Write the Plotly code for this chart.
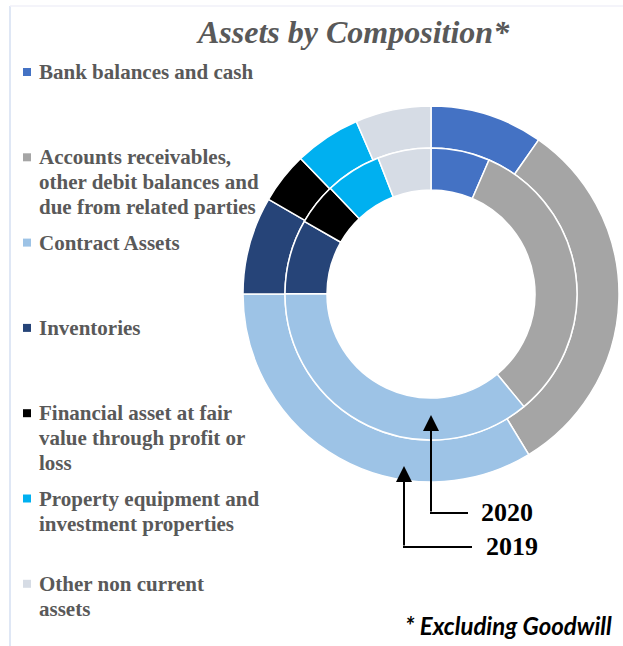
import plotly.graph_objects as go

W, H = 623, 646

categories = [
    "Bank balances and cash",
    "Accounts receivables,<br>other debit balances and<br>due from related parties",
    "Contract Assets",
    "Inventories",
    "Financial asset at fair<br>value through profit or<br>loss",
    "Property equipment and<br>investment properties",
    "Other non current<br>assets",
]
colors = ["#4472C4", "#A5A5A5", "#9DC3E6", "#264478", "#000000", "#00B0F0", "#D6DCE5"]
values_2019 = [9.7, 31.6, 33.7, 8.4, 4.4, 5.7, 6.5]
values_2020 = [6.5, 32.5, 36.0, 8.25, 4.6, 6.2, 5.9]
years = ["2019", "2020"]


def px(x):
    return x / W


def py(y):
    return 1 - y / H


def pie_domain(cx, cy, r):
    return dict(x=[px(cx - r), px(cx + r)], y=[py(cy + r), py(cy - r)])


cx, cy = 431, 294
fig = go.Figure()
labels = [c.replace("<br>", " ") for c in categories]
fig.add_trace(go.Pie(
    labels=labels, values=values_2019, name=years[0], sort=False,
    direction="clockwise", rotation=0, hole=146 / 188,
    domain=pie_domain(cx, cy, 188), textinfo="none",
    marker=dict(colors=colors, line=dict(color="white", width=1.5)),
    showlegend=False,
))
fig.add_trace(go.Pie(
    labels=labels, values=values_2020, name=years[1], sort=False,
    direction="clockwise", rotation=0, hole=104 / 146,
    domain=pie_domain(cx, cy, 146), textinfo="none",
    marker=dict(colors=colors, line=dict(color="white", width=1.5)),
    showlegend=False,
))

annotations = []
shapes = []

# title
annotations.append(dict(
    x=px(353), y=py(32), xref="paper", yref="paper", showarrow=False,
    text="<b><i>Assets by Composition*</i></b>", xanchor="center", yanchor="middle",
    font=dict(family="Liberation Serif", size=32, color="#595959"),
))

# legend
line_h = 25
for i, (cat, col) in enumerate(zip(categories, colors)):
    y0 = 72 + i * 85.3
    for j, line in enumerate(cat.split("<br>")):
        annotations.append(dict(
            x=px(37), y=py(y0 + j * line_h), xref="paper", yref="paper",
            showarrow=False, text="<b>" + line + "</b>", xanchor="left", yanchor="middle",
            align="left", font=dict(family="Liberation Serif", size=21, color="#595959"),
        ))
    shapes.append(dict(
        type="rect", xref="paper", yref="paper",
        x0=px(23), x1=px(31), y0=py(y0 - 4), y1=py(y0 + 4),
        fillcolor=col, line=dict(width=0),
    ))

# arrows
for tipx, tipy, basey, endx, lab, labx in [
    (431, 415, 513, 468, years[1], 479),
    (404, 466, 547, 472, years[0], 484),
]:
    annotations.append(dict(
        x=px(tipx), y=py(tipy), xref="paper", yref="paper", text="",
        showarrow=True, ax=0, ay=basey - tipy, arrowhead=2, arrowsize=1.6,
        arrowwidth=2, arrowcolor="black", standoff=0,
    ))
    shapes.append(dict(
        type="line", xref="paper", yref="paper",
        x0=px(tipx - 1), x1=px(endx), y0=py(basey), y1=py(basey),
        line=dict(color="black", width=2),
    ))
    annotations.append(dict(
        x=px(labx), y=py(basey - 1), xref="paper", yref="paper", showarrow=False,
        text="<b>" + lab + "</b>", xanchor="left", yanchor="middle",
        font=dict(family="Liberation Serif", size=26, color="black"),
    ))

annotations.append(dict(
    x=px(403), y=py(625), xref="paper", yref="paper", showarrow=False,
    text="<b><i>* Excluding Goodwill</i></b>", xanchor="left", yanchor="middle",
    font=dict(family="Lato", size=24, color="black"),
))

# faint frame
shapes.append(dict(type="line", xref="paper", yref="paper",
                   x0=px(10), x1=px(10), y0=py(6), y1=py(646),
                   line=dict(color="#D5DFF2", width=1.5)))
shapes.append(dict(type="line", xref="paper", yref="paper",
                   x0=px(10), x1=px(623), y0=py(6), y1=py(6),
                   line=dict(color="#F0F1F8", width=1.5)))

fig.update_layout(
    width=W, height=H, margin=dict(l=0, r=0, t=0, b=0),
    paper_bgcolor="white", plot_bgcolor="white",
    annotations=annotations, shapes=shapes,
)
fig.write_html("out.html", config={"displayModeBar": False},
               post_script="document.body.style.margin='0px';")
